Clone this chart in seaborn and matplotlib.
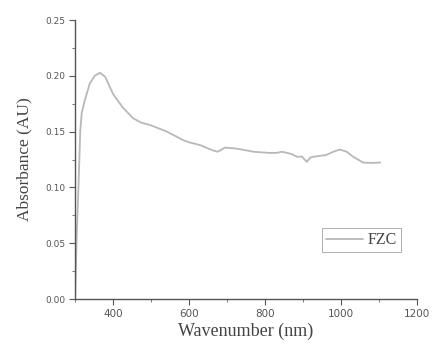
import matplotlib
matplotlib.use("Agg")
import matplotlib.pyplot as plt
import seaborn as sns
import pandas as pd
from matplotlib.ticker import MultipleLocator

wavelength = [301, 305, 310, 314, 318, 326, 339, 352, 366, 380, 400, 425, 453, 475,
              497, 520, 542, 565, 584, 605, 629, 650, 665, 676, 695, 720, 739, 770,
              810, 831, 845, 870, 884, 897, 910, 920, 937, 960, 980, 997, 1015, 1030,
              1045, 1058, 1080, 1103]
absorbance = [0.005, 0.06, 0.107, 0.15, 0.167, 0.178, 0.193, 0.200, 0.2028, 0.199,
              0.184, 0.172, 0.162, 0.158, 0.156, 0.153, 0.150, 0.146, 0.1425, 0.140,
              0.138, 0.135, 0.133, 0.132, 0.1357, 0.135, 0.134, 0.132, 0.131, 0.131,
              0.132, 0.130, 0.1275, 0.1277, 0.123, 0.127, 0.128, 0.129, 0.132, 0.134,
              0.132, 0.128, 0.125, 0.1223, 0.122, 0.1223]
series_name = "FZC"
x_ticks = [400, 600, 800, 1000, 1200]
y_ticks = [0.00, 0.05, 0.10, 0.15, 0.20, 0.25]

df = pd.DataFrame({"Wavenumber": wavelength, "Absorbance": absorbance,
                   "Sample": [series_name] * len(wavelength)})

sns.set_style("ticks")
fig = plt.figure(figsize=(4.33, 3.45), dpi=100)
ax = fig.add_axes([0.173, 0.133, 0.790, 0.809])

sns.lineplot(data=df, x="Wavenumber", y="Absorbance", hue="Sample",
             palette=["#b8b8b8"], linewidth=1.3, ax=ax, sort=False)

ax.set_xlim(300, 1200)
ax.set_ylim(0, 0.25)
ax.set_xticks(x_ticks)
ax.set_yticks(y_ticks)
ax.set_xticklabels([str(v) for v in x_ticks])
ax.set_yticklabels([f"{v:.2f}" for v in y_ticks])
ax.xaxis.set_minor_locator(MultipleLocator(100))
ax.yaxis.set_minor_locator(MultipleLocator(0.025))

for side in ["top", "right"]:
    ax.spines[side].set_visible(False)
for side in ["left", "bottom"]:
    ax.spines[side].set_color("#555555")
    ax.spines[side].set_linewidth(1.0)

ax.tick_params(axis="both", which="major", direction="out", length=4, width=0.8,
               colors="#555555", labelcolor="#555555", pad=3)
ax.tick_params(axis="x", which="major", labelsize=7.5)
ax.tick_params(axis="y", which="major", labelsize=6.5)
ax.tick_params(axis="both", which="minor", direction="out", length=2.5, width=0.7,
               colors="#777777")

ax.set_xlabel("Wavenumber (nm)", family="Liberation Serif", fontsize=13,
              color="#444444", labelpad=3)
ax.set_ylabel("Absorbance (AU)", family="Liberation Serif", fontsize=12.5,
              color="#444444", labelpad=9)

leg = ax.legend(loc="lower left", bbox_to_anchor=(0.722, 0.168), borderaxespad=0,
                frameon=True, fancybox=False, handlelength=2.3, handletextpad=0.3,
                borderpad=0.25, prop={"family": "Liberation Serif", "size": 11.5})
leg.get_frame().set_edgecolor("#999999")
leg.get_frame().set_linewidth(0.7)
for t in leg.get_texts():
    t.set_color("#444444")

fig.savefig("out.png", dpi=100)
